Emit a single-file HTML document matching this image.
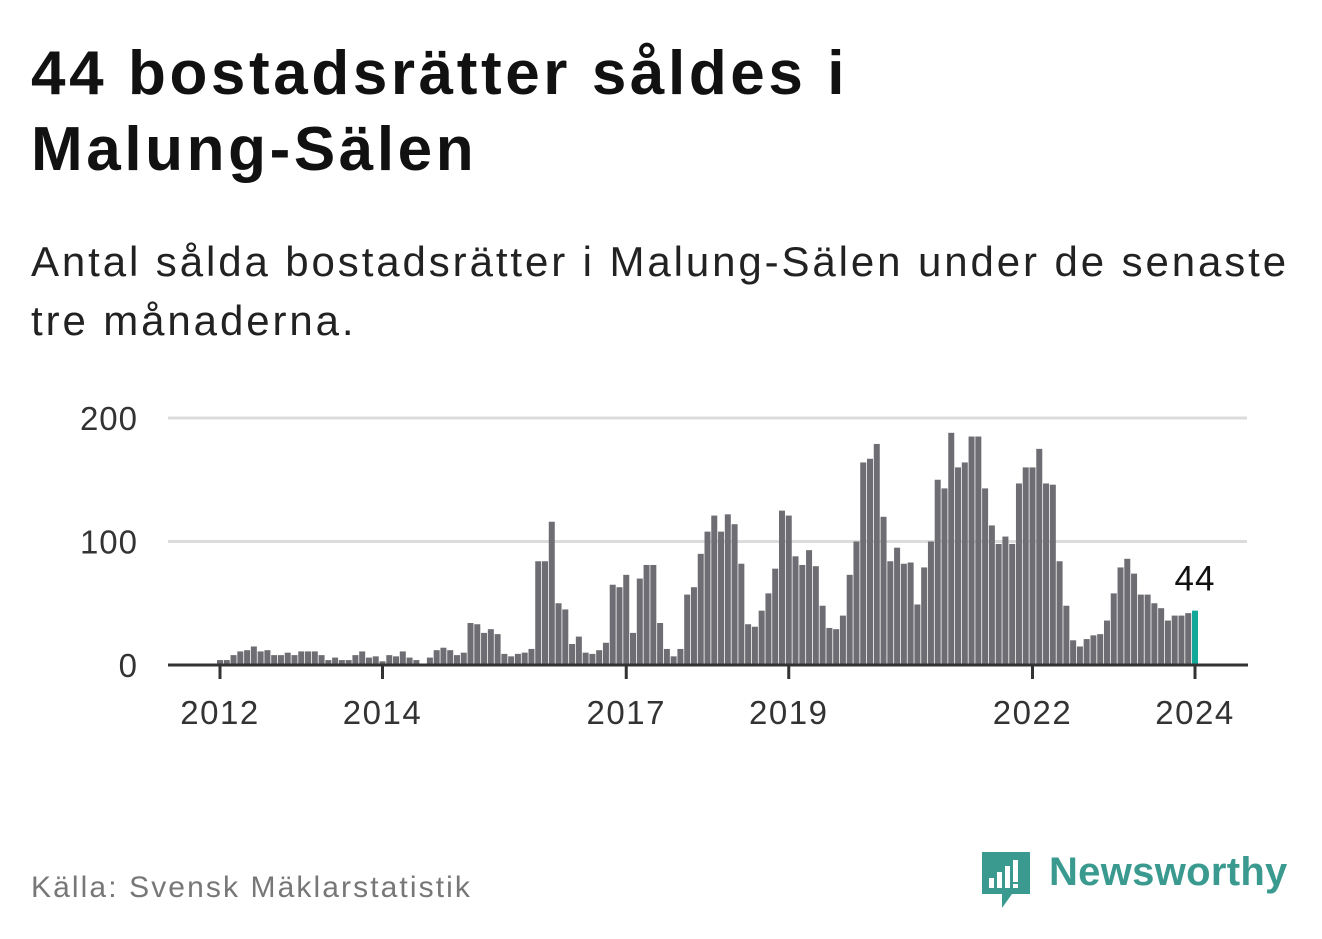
<!DOCTYPE html>
<html><head><meta charset="utf-8"><style>
body{margin:0;width:1322px;height:939px;background:#fff;overflow:hidden;font-family:"Liberation Sans","DejaVu Sans",sans-serif;position:relative}
h1{position:absolute;left:31px;top:36px;margin:0;font-size:62px;line-height:76px;font-weight:bold;color:#111;letter-spacing:3.6px}
.sub{position:absolute;left:31px;top:232px;margin:0;font-size:42px;line-height:59px;color:#222;letter-spacing:2.9px}
.src{position:absolute;left:31px;top:871px;font-size:30px;color:#777;letter-spacing:2.1px}
.logo{position:absolute;left:980px;top:850px;}
.logotext{position:absolute;left:1049px;top:850px;font-size:40px;font-weight:bold;color:#3a9a8f;letter-spacing:0.3px}
</style></head><body>
<h1>44 bostadsrätter såldes i<br>Malung-Sälen</h1>
<p class="sub">Antal sålda bostadsrätter i Malung-Sälen under de senaste<br>tre månaderna.</p>
<svg id="chart" width="1322" height="939" style="position:absolute;left:0;top:0"></svg>
<div class="src">Källa: Svensk Mäklarstatistik</div>
<svg class="logo" width="52" height="60" viewBox="0 0 52 60">
<path d="M2 2 H50 V44 H32 L22 58 V44 H2 Z" fill="#3a9a8f"/>
<rect x="9" y="28" width="5" height="10" fill="#fff"/><rect x="17" y="22" width="5" height="16" fill="#fff"/><rect x="25" y="16" width="5" height="22" fill="#fff"/><rect x="33" y="10" width="5" height="22" fill="#fff"/><rect x="33" y="34" width="5" height="4" fill="#fff"/>
</svg>
<div class="logotext">Newsworthy</div>
<script>
const values=[4,4,8,11,12,15,11,12,8,8,10,8,11,11,11,8,4,6,4,4,8,11,6,7,3,8,7,11,6,4,0,6,12,14,12,8,
10,34,33,26,29,25,9,7,9,10,13,84,84,116,50,45,17,23,10,9,12,18,65,63,73,26,70,81,81,34,13,7,13,57,63,90,108,121,108,122,114,82,33,31,44,58,78,125,121,88,81,93,80,48,30,29,
40,73,100,164,167,179,120,84,95,82,83,49,79,100,150,143,188,160,164,185,185,143,113,98,104,98,147,160,160,175,147,146,84,48,20,15,21,24,25,36,58,79,86,74,57,57,50,46,36,40,40,42,44];
const yTicks=[0,100,200];
const xTickYears=[2012,2014,2017,2019,2022,2024];
const startYear=2012;
const svg=document.getElementById('chart');
const NS='http://www.w3.org/2000/svg';
const x0=220,x1=1195,yBase=665,yTop=418;
const y=v=>yBase-(v/200)*(yBase-yTop);
const step=(x1-x0)/(values.length-1);
const x=i=>x0+i*step;
function mk(t,a){const e=document.createElementNS(NS,t);for(const k in a)e.setAttribute(k,a[k]);svg.appendChild(e);return e;}
yTicks.forEach(v=>{
  if(v>0){const g=mk('line',{x1:168,x2:1247,y1:y(v),y2:y(v),stroke:'#dcdcdc','stroke-width':3});
  
  }
  const t=mk('text',{x:138,y:y(v)+12,'text-anchor':'end','font-size':33,'letter-spacing':1,fill:'#333','font-family':'Liberation Sans, DejaVu Sans, sans-serif'});
  t.textContent=v;
  
  
});
values.forEach((v,i)=>{
  const last=i===values.length-1;
  const r=mk('rect',{x:x(i)-3,y:y(v),width:6,height:yBase-y(v),fill:last?'#14a89a':'#6e6d73'});
  
  
});
const bl=mk('line',{x1:168,x2:1248,y1:yBase,y2:yBase,stroke:'#333','stroke-width':3});


xTickYears.forEach(yr=>{
  const xi=x((yr-startYear)*12);
  const tk=mk('line',{x1:xi,x2:xi,y1:yBase,y2:yBase+14,stroke:'#333','stroke-width':3});
  
  
  const t=mk('text',{x:xi,y:724,'text-anchor':'middle','font-size':33,'letter-spacing':1.5,fill:'#333','font-family':'Liberation Sans, DejaVu Sans, sans-serif'});
  t.textContent=yr;
  
  
});
const li=values.length-1;
const lab=mk('text',{x:x(li),y:y(values[li])-20,'text-anchor':'middle','font-size':35,'letter-spacing':1,fill:'#111','font-family':'Liberation Sans, DejaVu Sans, sans-serif'});
lab.textContent=values[li];


</script>
</body></html>
